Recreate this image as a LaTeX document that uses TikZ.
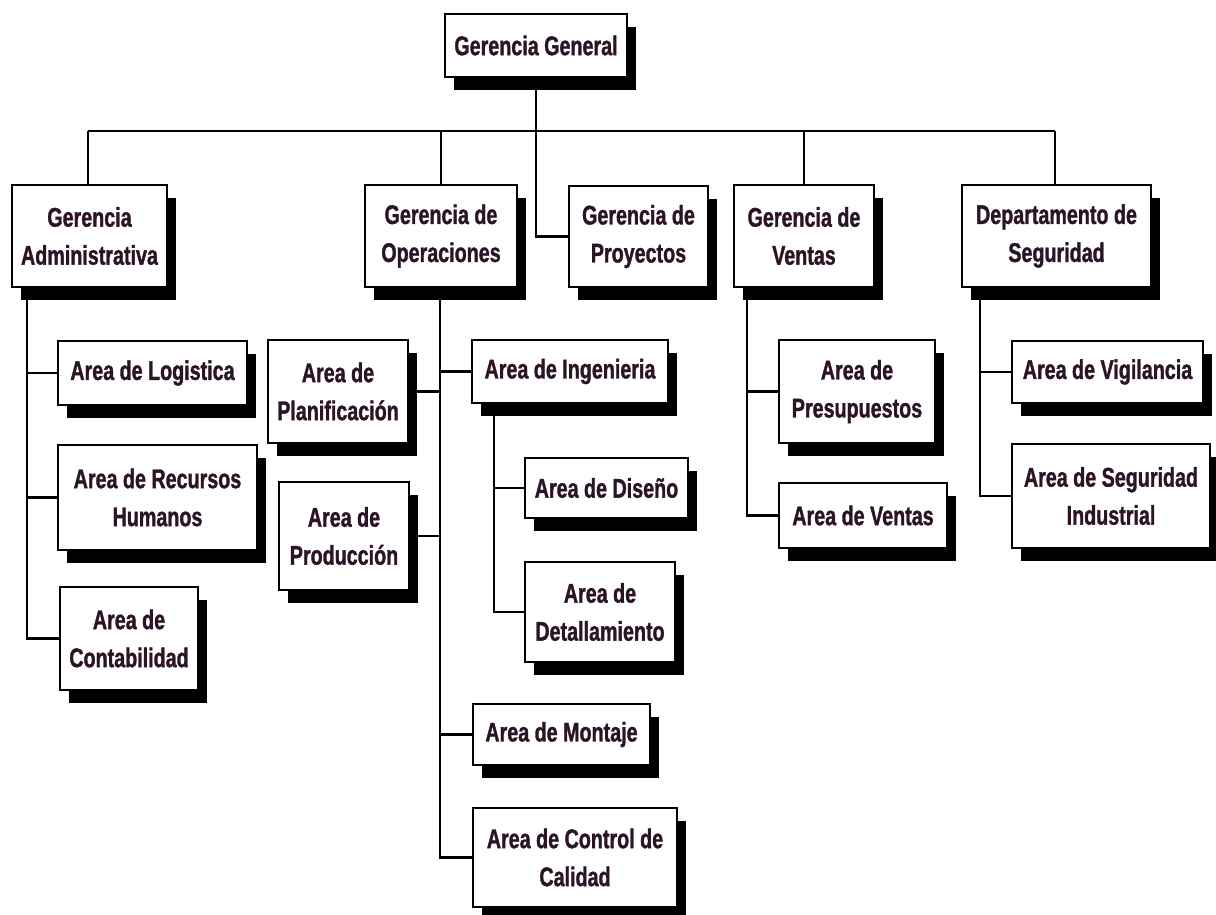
\documentclass[tikz,border=0pt]{standalone}
\usepackage{fontspec}
\setmainfont{Liberation Sans}[FakeStretch=0.73, BoldFeatures={FakeBold=1.2}]
\usetikzlibrary{shadows}
\definecolor{txt}{RGB}{43,20,38}
\tikzset{
  box/.style={draw=black, line width=2.2pt, fill=white, inner sep=0pt, align=center,
    text=txt, font=\fontsize{27}{38}\selectfont\bfseries,
    drop shadow={shadow xshift=9pt, shadow yshift=-13pt, fill=black, opacity=1}},
  conn/.style={draw=black, line width=2.8pt}
}
\begin{document}
\begin{tikzpicture}[x=1pt,y=-1pt]
\useasboundingbox (0,0) rectangle (1216,914);
% level 0
\node[box, minimum width=182, minimum height=63] (gg) at (536,45.5) {Gerencia General};
% level 1
\node[box, minimum width=155, minimum height=102] (adm) at (89.5,236) {Gerencia\\Administrativa};
\node[box, minimum width=152, minimum height=102] (ope) at (441,236) {Gerencia de\\Operaciones};
\node[box, minimum width=139, minimum height=101] (pro) at (638.5,236.5) {Gerencia de\\Proyectos};
\node[box, minimum width=140, minimum height=102] (ven) at (804,236) {Gerencia de\\Ventas};
\node[box, minimum width=189, minimum height=102] (seg) at (1056.5,236) {Departamento de\\Seguridad};
% administrativa
\node[box, minimum width=189, minimum height=64] (log) at (152.5,373) {Area de Logistica};
\node[box, minimum width=199, minimum height=105] (rrhh) at (157.5,497.5) {Area de Recursos\\Humanos};
\node[box, minimum width=138, minimum height=103] (con) at (129,638.5) {Area de\\Contabilidad};
% operaciones
\node[box, minimum width=140, minimum height=103] (pla) at (338,391.5) {Area de\\Planificaci\'on};
\node[box, minimum width=130, minimum height=108] (prd) at (344,536) {Area de\\Producci\'on};
\node[box, minimum width=196, minimum height=63] (ing) at (570,371.5) {Area de Ingenieria};
\node[box, minimum width=163, minimum height=60] (dis) at (606.5,488) {Area de Dise\~no};
\node[box, minimum width=150, minimum height=100] (det) at (600,612) {Area de\\Detallamiento};
\node[box, minimum width=177, minimum height=61] (mon) at (561.5,734.5) {Area de Montaje};
\node[box, minimum width=204, minimum height=99] (cal) at (575,857.5) {Area de Control de\\Calidad};
% ventas
\node[box, minimum width=156, minimum height=103] (pre) at (857,391.5) {Area de\\Presupuestos};
\node[box, minimum width=168, minimum height=65] (vta) at (863,515.5) {Area de Ventas};
% seguridad
\node[box, minimum width=191, minimum height=62] (vig) at (1107.5,372) {Area de Vigilancia};
\node[box, minimum width=198, minimum height=104] (sin) at (1111,496) {Area de Seguridad\\Industrial};

% trunk coordinates
\coordinate (busL) at (88,131);
\coordinate (busR) at (1055,131);
\coordinate (admT) at (27,287);
\coordinate (opeT) at (440,287);
\coordinate (ingT) at (494,403);
\coordinate (venT) at (747,287);
\coordinate (segT) at (980,287);

% top bus
\draw[conn] (gg.south) |- (pro.west);
\draw[conn] (busL) -- (busR);
\draw[conn] (busL) -- (busL |- adm.north);
\draw[conn] (ope.north |- busL) -- (ope.north);
\draw[conn] (ven.north |- busL) -- (ven.north);
\draw[conn] (busR) -- (busR |- seg.north);

% administrativa
\draw[conn] (admT) |- (con.west);
\draw[conn] (log.west) -- (log.west -| admT);
\draw[conn] (rrhh.west) -- (rrhh.west -| admT);

% operaciones
\draw[conn] (opeT) |- (cal.west);
\draw[conn] (ing.west) -- (ing.west -| opeT);
\draw[conn] (pla.east) -- (pla.east -| opeT);
\draw[conn] (prd.east) -- (prd.east -| opeT);
\draw[conn] (mon.west) -- (mon.west -| opeT);
\draw[conn] (ingT) |- (det.west);
\draw[conn] (dis.west) -- (dis.west -| ingT);

% ventas
\draw[conn] (venT) |- (vta.west);
\draw[conn] (pre.west) -- (pre.west -| venT);

% seguridad
\draw[conn] (segT) |- (sin.west);
\draw[conn] (vig.west) -- (vig.west -| segT);
\end{tikzpicture}
\end{document}
